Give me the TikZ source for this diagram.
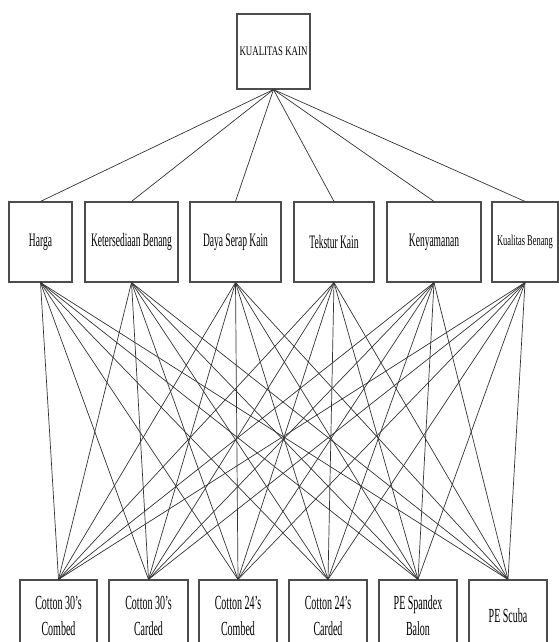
\documentclass[tikz,border=0pt]{standalone}
\usepackage{fontspec}
\usepackage{graphicx}
\setmainfont{Liberation Serif}
\newcommand\sqz[1]{\scalebox{0.5}[1]{#1}}

\begin{document}
\begin{tikzpicture}[x=1pt, y=-1pt,
  kotak/.style={draw=black!70, line width=1.1pt, fill=white, inner sep=0pt, align=center},
  garis/.style={black!80, line width=0.7pt}]
\useasboundingbox (0,0) rectangle (559,642);
\clip (0,0) rectangle (559,642);

% Goal
\node[kotak, minimum width=73, minimum height=75, font=\fontsize{13}{15}\selectfont] (top) at (273.5, 51.5) {\scalebox{0.68}[1]{KUALITAS KAIN}};

% Criteria
\node[kotak, minimum width=63, minimum height=80, font=\fontsize{19}{21}\selectfont] (c1) at (40.5, 242) {\sqz{Harga}};
\node[kotak, minimum width=93, minimum height=80, font=\fontsize{19}{21}\selectfont] (c2) at (131.5, 242) {\sqz{Ketersediaan Benang}};
\node[kotak, minimum width=91, minimum height=80, font=\fontsize{19}{21}\selectfont] (c3) at (235.5, 242) {\sqz{Daya Serap Kain}};
\node[kotak, minimum width=80, minimum height=80, font=\fontsize{19}{21}\selectfont] (c4) at (334, 242) {\sqz{Tekstur Kain}};
\node[kotak, minimum width=94, minimum height=80, font=\fontsize{19}{21}\selectfont] (c5) at (434, 242) {\sqz{Kenyamanan}};
\node[kotak, minimum width=66, minimum height=80, font=\fontsize{15}{17}\selectfont] (c6) at (525, 242) {\scalebox{0.56}[1]{Kualitas Benang}};

% Alternatives
\node[kotak, minimum width=77, minimum height=72, font=\fontsize{20}{26}\selectfont] (a1) at (58.5, 616) {\sqz{Cotton 30’s}\\\sqz{Combed}};
\node[kotak, minimum width=79, minimum height=72, font=\fontsize{20}{26}\selectfont] (a2) at (148.5, 616) {\sqz{Cotton 30’s}\\\sqz{Carded}};
\node[kotak, minimum width=78, minimum height=72, font=\fontsize{20}{26}\selectfont] (a3) at (238, 616) {\sqz{Cotton 24’s}\\\sqz{Combed}};
\node[kotak, minimum width=78, minimum height=72, font=\fontsize{20}{26}\selectfont] (a4) at (328, 616) {\sqz{Cotton 24’s}\\\sqz{Carded}};
\node[kotak, minimum width=78, minimum height=72, font=\fontsize{20}{26}\selectfont] (a5) at (418, 616) {\sqz{PE Spandex}\\\sqz{Balon}};
\node[kotak, minimum width=78, minimum height=72, font=\fontsize{20}{26}\selectfont] (a6) at (508, 616) {\sqz{PE Scuba}};

% Connectors
\foreach \i in {1,...,6}
  \draw[garis] (top.south) -- (c\i.north);
\foreach \i in {1,...,6}
  \foreach \j in {1,...,6}
    \draw[garis] (c\i.south) -- (a\j.north);
\end{tikzpicture}
\end{document}
